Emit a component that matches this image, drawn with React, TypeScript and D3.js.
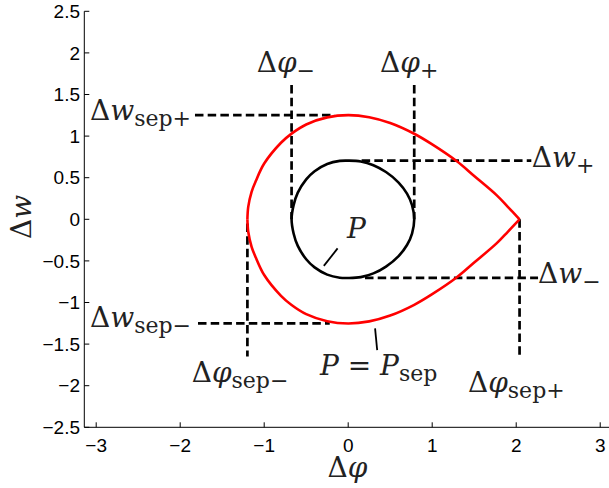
import React from "react";
import * as d3 from "d3";

// Separatrix of the bucket (Δφ, Δw), traced from the left turning point
// along the upper branch to the unstable point, then back along the lower branch.
const sepUpperPhi = [-1.2, -1.19, -1.15, -1.1, -1.0, -0.8, -0.674, -0.5, -0.25, 0, 0.25, 0.5, 0.786, 1.0, 1.29, 1.5, 1.766, 1.9, 2.04];
const sepUpperW = [0, 0.15, 0.33, 0.46, 0.67, 0.92, 1.03, 1.14, 1.225, 1.252, 1.227, 1.157, 1.028, 0.9, 0.7, 0.52, 0.29, 0.15, 0];
const sepLowerPhi = [2.04, 1.9, 1.766, 1.5, 1.29, 1.0, 0.786, 0.5, 0.25, 0, -0.25, -0.5, -0.674, -0.8, -1.0, -1.1, -1.15, -1.19, -1.2];
const sepLowerW = [0, -0.15, -0.29, -0.52, -0.7, -0.9, -1.028, -1.157, -1.227, -1.252, -1.225, -1.14, -1.03, -0.92, -0.67, -0.46, -0.33, -0.15, 0];

// Closed orbit through the operating point P.
const orbitPhi = [-0.674, -0.65, -0.6, -0.5, -0.4, -0.25, -0.1, 0, 0.15, 0.3, 0.45, 0.6, 0.7, 0.76, 0.786, 0.76, 0.7, 0.6, 0.45, 0.3, 0.15, 0, -0.1, -0.25, -0.4, -0.5, -0.6, -0.65];
const orbitW = [0, 0.17, 0.32, 0.48, 0.578, 0.665, 0.702, 0.705, 0.695, 0.65, 0.568, 0.442, 0.309, 0.171, 0, -0.171, -0.309, -0.442, -0.568, -0.65, -0.695, -0.705, -0.702, -0.665, -0.578, -0.48, -0.32, -0.17];

// Dashed guide lines: [φ1, w1, φ2, w2]
const guidePhi1 = [-0.674, 0.786, -1.824, 0.16, 0.2, -1.788, -1.2, 2.04];
const guideW1 = [1.613, 1.613, 1.252, 0.705, -0.705, -1.252, -0.05, 0];
const guidePhi2 = [-0.674, 0.786, -0.16, 2.18, 2.26, -0.22, -1.2, 2.04];
const guideW2 = [0, 0, 1.252, 0.705, -0.705, -1.252, -1.65, -1.65];

// Pointer strokes from the P labels to their curves
const pointerPhi1 = [-0.29, 0.32];
const pointerW1 = [-0.56, -1.31];
const pointerPhi2 = [-0.126, 0.345];
const pointerW2 = [-0.35, -1.573];

// Annotations: leading delta, italic symbol, subscript
const annDelta = [true, true, true, true, true, true, true, true, false, false];
const annSymbol = ["φ", "φ", "w", "w", "w", "w", "φ", "φ", "P", "P"];
const annSub = ["−", "+", "sep+", "+", "−", "sep−", "sep−", "sep+", "", "sep"];
const annPhi = [-1.089, 0.379, -3.074, 2.185, 2.26, -3.074, -1.863, 1.426, -0.014, -0.336];
const annW = [1.774, 1.77, 1.194, 0.625, -0.766, -1.291, -1.952, -2.076, -0.225, -1.871];

const xTicks = [-3, -2, -1, 0, 1, 2, 3];
const yTicks = [-2.5, -2, -1.5, -1, -0.5, 0, 0.5, 1, 1.5, 2, 2.5];

const W = 609;
const H = 488;
const MATH_FONT = "'DejaVu Serif', 'Liberation Serif', serif";
const TICK_FONT = "'Liberation Sans', Arial, sans-serif";
const MATH_SIZE = 28;
const SUB_SIZE = 22;

const fmt = (v: number) => {
  const s = String(v);
  return s.startsWith("-") ? "\u2212" + s.slice(1) : s;
};

export default function App() {
  const x = d3.scaleLinear().domain([-Math.PI, Math.PI]).range([84.3, 612.1]);
  const y = d3.scaleLinear().domain([-2.5, 2.5]).range([427.3, 11.3]);

  const line = d3
    .line<[number, number]>()
    .x((d) => x(d[0]))
    .y((d) => y(d[1]))
    .curve(d3.curveCatmullRom.alpha(0.5));
  const closedLine = d3
    .line<[number, number]>()
    .x((d) => x(d[0]))
    .y((d) => y(d[1]))
    .curve(d3.curveCatmullRomClosed.alpha(0.5));

  const upper = sepUpperPhi.map((p, i) => [p, sepUpperW[i]] as [number, number]);
  const lower = sepLowerPhi.map((p, i) => [p, sepLowerW[i]] as [number, number]);
  const orbit = orbitPhi.map((p, i) => [p, orbitW[i]] as [number, number]);

  const x0 = x(-Math.PI);
  const y0 = y(-2.5);

  return (
    <svg
      width={W}
      height={H}
      style={{ position: "absolute", left: 0, top: 0, background: "#fff" }}
    >
      <rect x={0} y={0} width={W} height={H} fill="#fff" />

      {/* axes */}
      <line x1={x0} y1={y(2.5)} x2={x0} y2={y0} stroke="#000" strokeWidth={1} />
      <line x1={x0} y1={y0} x2={W} y2={y0} stroke="#000" strokeWidth={1} />
      {xTicks.map((t) => (
        <g key={"xt" + t}>
          <line x1={x(t)} x2={x(t)} y1={y0} y2={y0 - 5} stroke="#000" strokeWidth={1} />
          <text
            x={x(t)}
            y={451.7}
            textAnchor="middle"
            fontFamily={TICK_FONT}
            fontSize={19}
            fill="#000"
          >
            {fmt(t)}
          </text>
        </g>
      ))}
      {yTicks.map((t) => (
        <g key={"yt" + t}>
          <line x1={x0} x2={x0 + 5} y1={y(t)} y2={y(t)} stroke="#000" strokeWidth={1} />
          <text
            x={80}
            y={y(t) + 6.7}
            textAnchor="end"
            fontFamily={TICK_FONT}
            fontSize={19}
            fill="#000"
          >
            {fmt(t)}
          </text>
        </g>
      ))}

      {/* axis titles */}
      <text x={347.5} y={477} textAnchor="middle" fontFamily={MATH_FONT} fontSize={MATH_SIZE} fill="#222">
        <tspan>Δ</tspan>
        <tspan fontStyle="italic">φ</tspan>
      </text>
      <text
        transform="translate(31,217) rotate(-90)"
        textAnchor="middle"
        fontFamily={MATH_FONT}
        fontSize={MATH_SIZE}
        fill="#222"
      >
        <tspan>Δ</tspan>
        <tspan fontStyle="italic">w</tspan>
      </text>

      {/* dashed guides */}
      {guidePhi1.map((p, i) => (
        <line
          key={"g" + i}
          x1={x(p)}
          y1={y(guideW1[i])}
          x2={x(guidePhi2[i])}
          y2={y(guideW2[i])}
          stroke="#000"
          strokeWidth={2.7}
          strokeDasharray="8.5 4.2"
        />
      ))}

      {/* curves */}
      <path d={line(upper) ?? ""} fill="none" stroke="#ff0000" strokeWidth={2.6} strokeLinejoin="round" />
      <path d={line(lower) ?? ""} fill="none" stroke="#ff0000" strokeWidth={2.6} strokeLinejoin="round" />
      <path d={closedLine(orbit) ?? ""} fill="none" stroke="#000" strokeWidth={2.6} />

      {/* pointers */}
      {pointerPhi1.map((p, i) => (
        <line
          key={"p" + i}
          x1={x(p)}
          y1={y(pointerW1[i])}
          x2={x(pointerPhi2[i])}
          y2={y(pointerW2[i])}
          stroke="#000"
          strokeWidth={1.8}
        />
      ))}

      {/* annotations */}
      {annSymbol.map((s, i) => (
        <text
          key={"a" + i}
          x={x(annPhi[i])}
          y={y(annW[i])}
          fontFamily={MATH_FONT}
          fontSize={MATH_SIZE}
          fill="#222"
        >
          {annDelta[i] && <tspan>Δ</tspan>}
          <tspan fontStyle="italic">{s}</tspan>
          {i === 9 && (
            <>
              <tspan> = </tspan>
              <tspan fontStyle="italic">P</tspan>
            </>
          )}
          {annSub[i] && (
            <tspan fontSize={SUB_SIZE} dy={6}>
              {annSub[i]}
            </tspan>
          )}
        </text>
      ))}
    </svg>
  );
}
